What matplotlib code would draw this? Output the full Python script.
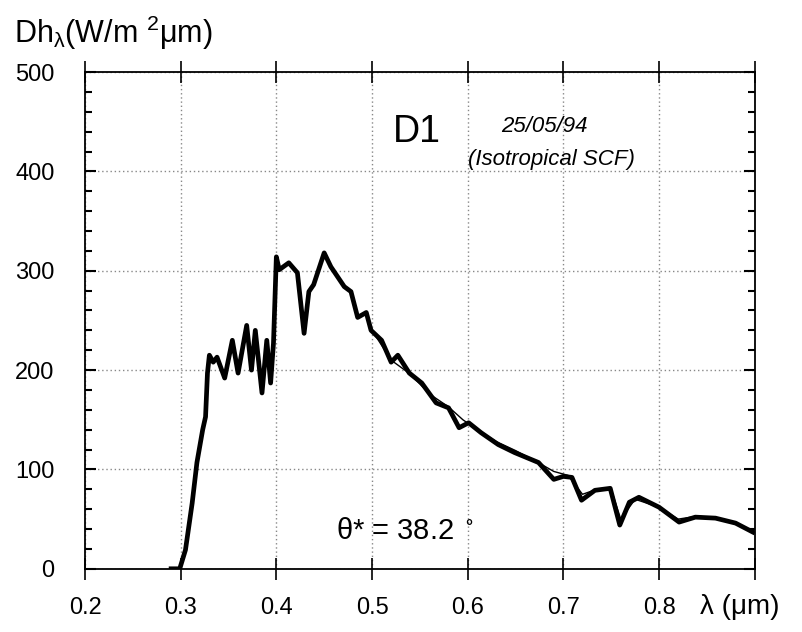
import matplotlib
matplotlib.use("Agg")
import matplotlib.pyplot as plt
from matplotlib.ticker import MultipleLocator

plt.rcParams['font.family'] = ['Liberation Sans', 'DejaVu Sans']
plt.rcParams['mathtext.default'] = 'regular'

# spectre mesure (trait epais)
wl = [0.290, 0.299, 0.305, 0.312, 0.317, 0.323, 0.326, 0.328, 0.330, 0.334, 0.338,
      0.346, 0.354, 0.360, 0.369, 0.374, 0.378, 0.385, 0.390, 0.394, 0.397,
      0.400, 0.403, 0.413, 0.422, 0.429, 0.434, 0.439, 0.450, 0.457, 0.471,
      0.478, 0.485, 0.494, 0.499, 0.510, 0.520, 0.527, 0.539, 0.552, 0.567,
      0.580, 0.591, 0.601, 0.614, 0.632, 0.649, 0.674, 0.690, 0.700, 0.709,
      0.719, 0.733, 0.749, 0.759, 0.769, 0.779, 0.800, 0.821, 0.838, 0.859,
      0.880, 0.898]
dh = [0, 0, 19, 66, 107, 140, 153, 197, 215, 208, 213,
      192, 230, 197, 245, 200, 240, 177, 230, 187, 227,
      314, 301, 308, 298, 237, 279, 286, 318, 304, 284,
      279, 253, 258, 240, 230, 208, 215, 197, 187, 167,
      162, 142, 147, 137, 125, 117, 107, 90, 93, 92,
      69, 79, 81, 44, 67, 72, 62, 47, 52, 51,
      46, 37]

# spectre modele (trait fin)
wl2 = [0.500, 0.520, 0.540, 0.560, 0.580, 0.595, 0.610, 0.630, 0.650, 0.670,
       0.690, 0.705, 0.720, 0.735, 0.750, 0.760, 0.775, 0.800, 0.820, 0.840,
       0.860, 0.880, 0.898]
dh2 = [240, 210, 196, 176, 163, 150, 140, 128, 119, 109,
       98, 94, 75, 80, 80, 50, 70, 62, 50, 53,
       51, 46, 38]

fig = plt.figure(figsize=(8.02, 6.32), dpi=100)
ax = fig.add_axes([0.106, 0.100, 0.835, 0.786])

ax.plot(wl, dh, '-', color='black', linewidth=3.4)
ax.plot(wl2, dh2, '-', color='black', linewidth=1.0)

ax.set_xlim(0.2, 0.9)
ax.set_ylim(0, 500)
ax.yaxis.set_major_locator(MultipleLocator(100))
ax.yaxis.set_minor_locator(MultipleLocator(20))
ax.set_xticks([0.2, 0.3, 0.4, 0.5, 0.6, 0.7, 0.8, 0.9])
ax.set_xticklabels(['0.2', '0.3', '0.4', '0.5', '0.6', '0.7', '0.8', ''])

ax.grid(True, which='major', linestyle=(0, (1, 2)), color='#888888', linewidth=1.0)
ax.tick_params(axis='x', direction='inout', length=16, width=1.2, top=True,
               labelsize=17, pad=12)
ax.tick_params(axis='y', which='major', direction='in', length=8, width=1.5,
               right=True, labelsize=17, pad=22)
ax.tick_params(axis='y', which='minor', direction='in', length=5, width=1.5,
               right=True)
for s in ax.spines.values():
    s.set_linewidth(1.3)

fig.text(0.018, 0.948, r'Dh$_λ$(W/m $^2$μm)', fontsize=22, va='center')
ax.text(0.522, 440, 'D1', fontsize=27, va='center')
ax.text(0.635, 445, '25/05/94', fontsize=16, style='italic', va='center')
ax.text(0.600, 412, '(Isotropical SCF)', fontsize=16, style='italic', va='center')
ax.text(0.462, 38, 'θ* = 38.2 $^\\circ$', fontsize=21, va='center', ha='left')
fig.text(0.873, 0.039, 'λ (μm)', fontsize=20, va='center')

fig.savefig('out.png', dpi=100)
